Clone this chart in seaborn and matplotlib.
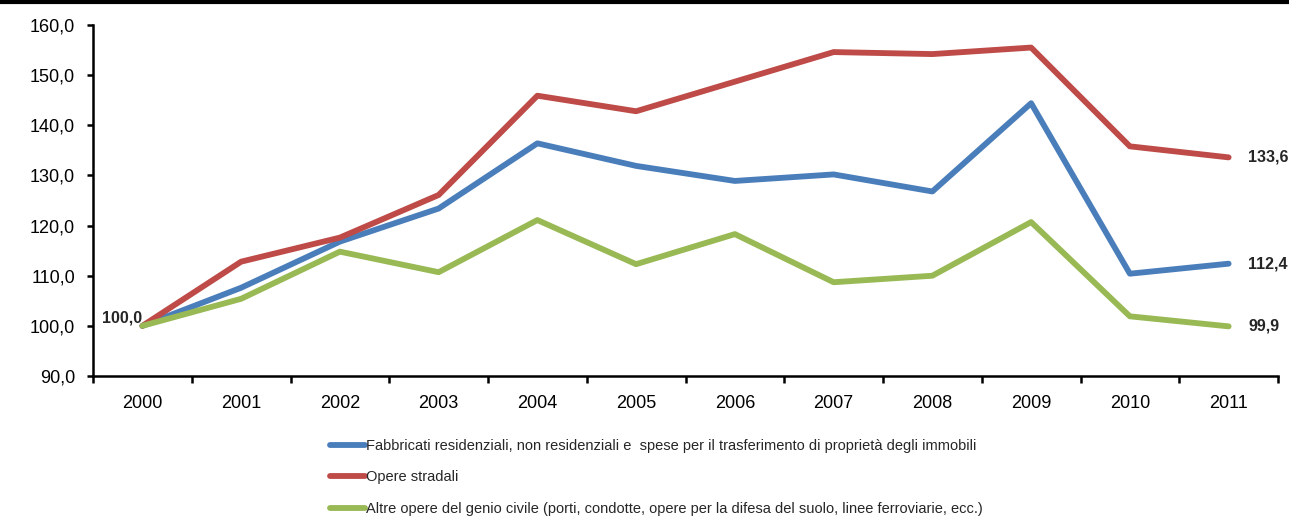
import matplotlib
matplotlib.use("Agg")
import matplotlib.pyplot as plt
from matplotlib.lines import Line2D
from matplotlib.ticker import FixedLocator, FuncFormatter
import seaborn as sns
import pandas as pd

years = [2000, 2001, 2002, 2003, 2004, 2005, 2006, 2007, 2008, 2009, 2010, 2011]
fabbricati = [100.0, 107.6, 116.8, 123.4, 136.4, 131.9, 128.9, 130.2, 126.8, 144.4, 110.4, 112.4]
stradali = [100.0, 112.8, 117.6, 126.1, 145.9, 142.8, 148.7, 154.6, 154.2, 155.5, 135.8, 133.6]
altre = [100.0, 105.4, 114.8, 110.7, 121.1, 112.3, 118.3, 108.7, 110.0, 120.7, 101.9, 99.9]

series_names = [
    "Fabbricati residenziali, non residenziali e  spese per il trasferimento di proprietà degli immobili",
    "Opere stradali",
    "Altre opere del genio civile (porti, condotte, opere per la difesa del suolo, linee ferroviarie, ecc.)",
]
colors = ["#4A7EBB", "#BE4B48", "#98B954"]
yticks = [90, 100, 110, 120, 130, 140, 150, 160]

sns.set_theme(style="white")
plt.rcParams["font.family"] = ["Liberation Sans", "DejaVu Sans"]

df = pd.DataFrame({
    "anno": years * 3,
    "valore": fabbricati + stradali + altre,
    "serie": [series_names[0]] * 12 + [series_names[1]] * 12 + [series_names[2]] * 12,
})

fig = plt.figure(figsize=(12.89, 5.18), dpi=100)
ax = fig.add_axes([93 / 1289, 1 - 376 / 518, (1278 - 93) / 1289, (376 - 25) / 518])

sns.lineplot(data=df, x="anno", y="valore", hue="serie", hue_order=series_names,
             palette=colors, linewidth=4.2, ax=ax, legend=True, sort=False)

ax.set_xlim(years[0] - 0.5, years[-1] + 0.5)
ax.set_ylim(yticks[0], yticks[-1])
ax.set_xlabel("")
ax.set_ylabel("")
ax.set_yticks(yticks)
ax.yaxis.set_major_formatter(FuncFormatter(lambda v, p: f"{v:.1f}".replace(".", ",")))
ax.set_xticks(years)
ax.set_xticklabels([str(y) for y in years])
ax.xaxis.set_minor_locator(FixedLocator([y - 0.5 for y in years] + [years[-1] + 0.5]))
ax.tick_params(axis="x", which="major", length=0, pad=14, labelsize=13, colors="black")
ax.tick_params(axis="x", which="minor", length=5, width=1.8, direction="out", color="black", bottom=True)
ax.tick_params(axis="y", which="major", length=4.5, width=1.8, direction="out", pad=8.5,
               labelsize=13, colors="black", left=True)
for s in ["top", "right"]:
    ax.spines[s].set_visible(False)
for s in ["left", "bottom"]:
    ax.spines[s].set_color("black")
    ax.spines[s].set_linewidth(1.8)

# data labels
ax.annotate(f"{fabbricati[0]:.1f}".replace(".", ","), (years[0], stradali[0]), xytext=(0, 6),
            textcoords="offset points", ha="right", va="center", fontsize=11.5, fontweight="bold")
for vals in (stradali, fabbricati, altre):
    ax.annotate(f"{vals[-1]:.1f}".replace(".", ","), (years[-1], vals[-1]), xytext=(14, 0),
                textcoords="offset points", ha="left", va="center", fontsize=11.5, fontweight="bold")

handles, labels = ax.get_legend_handles_labels()
ax.get_legend().remove()
leg = fig.legend(handles, labels, loc="upper left", bbox_to_anchor=(330 / 1289, 1 - 439 / 518),
                 frameon=False, ncol=1, fontsize=10.5, handlelength=2.4, handletextpad=0.05,
                 labelspacing=1.2, borderpad=0, borderaxespad=0)

fig.add_artist(Line2D([0, 1], [1 - 2 / 518, 1 - 2 / 518], transform=fig.transFigure, color="black", linewidth=3))

fig.savefig("out.png", dpi=100, facecolor="white")
